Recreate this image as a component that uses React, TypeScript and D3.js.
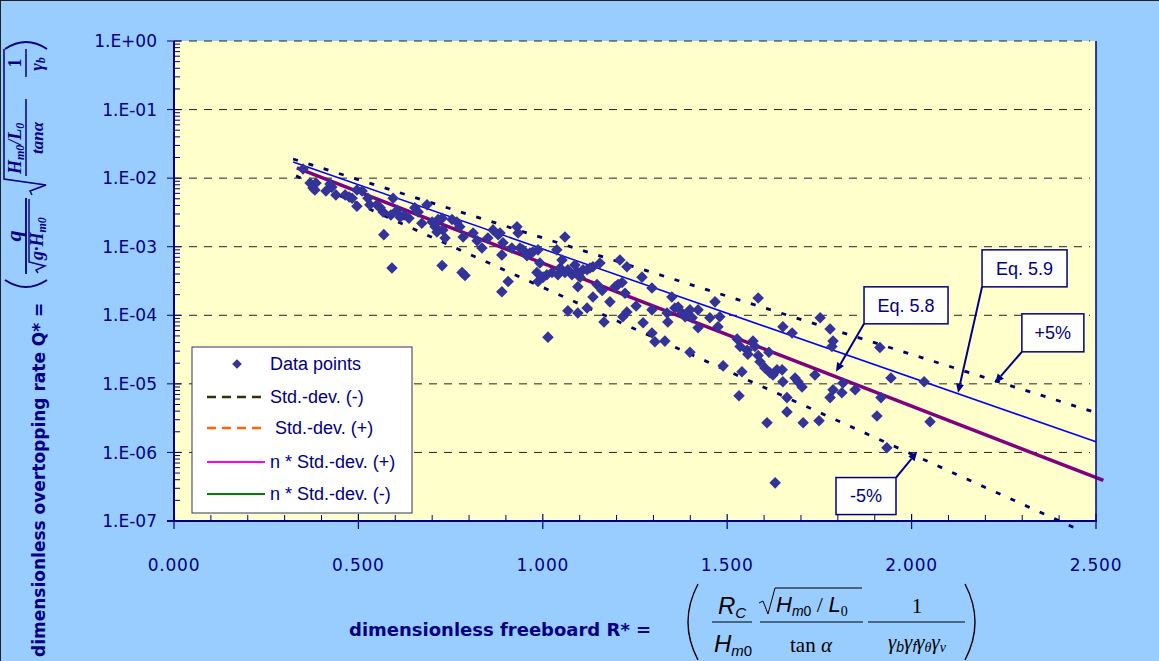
import * as d3 from "d3";

// dimensionless freeboard R* and overtopping rate Q*
const rStar = [
  0.350, 0.369, 0.377, 0.385, 0.382, 0.412, 0.423, 0.428, 0.439, 0.464,
  0.475, 0.483, 0.496, 0.510, 0.496, 0.526, 0.531, 0.550, 0.559, 0.567,
  0.569, 0.588, 0.594, 0.591, 0.605, 0.613, 0.624, 0.637, 0.653, 0.662,
  0.672, 0.686, 0.700, 0.708, 0.716, 0.727, 0.729, 0.713, 0.735, 0.727,
  0.754, 0.767, 0.775, 0.784, 0.781, 0.789, 0.811, 0.822, 0.835, 0.851,
  0.865, 0.879, 0.884, 0.889, 0.892, 0.889, 0.906, 0.916, 0.930, 0.933,
  0.938, 0.946, 0.957, 0.965, 0.973, 0.987, 0.984, 0.992, 0.987, 1.001,
  1.011, 1.025, 1.014, 1.038, 1.060, 1.052, 1.041, 1.047, 1.060, 1.068,
  1.079, 1.087, 1.093, 1.101, 1.109, 1.120, 1.128, 1.136, 1.095, 1.068,
  1.095, 1.120, 1.155, 1.147, 1.161, 1.182, 1.196, 1.204, 1.215, 1.223,
  1.209, 1.228, 1.136, 1.166, 1.217, 1.228, 1.253, 1.269, 1.296, 1.272,
  1.296, 1.304, 1.331, 1.296, 1.337, 1.339, 1.350, 1.358, 1.367, 1.377,
  1.386, 1.391, 1.399, 1.405, 1.421, 1.421, 1.399, 1.453, 1.467, 1.475,
  1.480, 1.489, 1.527, 1.535, 1.554, 1.556, 1.570, 1.575, 1.584, 1.589,
  1.532, 1.540, 1.584, 1.602, 1.613, 1.616, 1.624, 1.635, 1.649, 1.651,
  1.662, 1.662, 1.608, 1.630, 1.684, 1.692, 1.703, 1.706, 1.738, 1.749,
  1.752, 1.779, 1.787, 1.784, 1.651, 1.676, 1.779, 1.787, 1.811, 1.814,
  1.847, 1.914, 1.944, 1.917, 1.906, 1.933, 2.034, 2.050
];
const qStar = [
  1.36e-2, 8.5e-3, 7.2e-3, 8.5e-3, 6.7e-3, 6.5e-3, 8.2e-3, 7.4e-3, 5.7e-3, 5.7e-3,
  5.3e-3, 5.1e-3, 6.7e-3, 6.5e-3, 3.9e-3, 5.1e-3, 4.1e-3, 4.1e-3, 3.7e-3, 3.2e-3,
  1.5e-3, 2.9e-3, 5.1e-3, 4.9e-4, 3.4e-3, 2.7e-3, 2.9e-3, 2.6e-3, 3.7e-3, 3.2e-3,
  2.2e-3, 4.1e-3, 2.3e-3, 1.95e-3, 2.5e-3, 2.6e-3, 1.76e-3, 1.64e-3, 1.34e-3, 5.3e-4,
  2.5e-3, 2.3e-3, 1.95e-3, 1.39e-3, 4.2e-4, 3.8e-4, 1.59e-3, 1.22e-3, 9.6e-4, 1.34e-3,
  1.76e-3, 1.49e-3, 1.59e-3, 7.6e-4, 1.14e-3, 2.2e-4, 3.1e-4, 9.6e-4, 1.95e-3, 1.59e-3,
  9.6e-4, 9.0e-4, 7.4e-4, 8.1e-4, 8.4e-4, 9.0e-4, 4.2e-4, 5.8e-4, 3.1e-4, 3.6e-4,
  3.9e-4, 4.2e-4, 4.8e-5, 9.0e-4, 1.39e-3, 6.4e-4, 3.9e-4, 4.9e-4, 4.2e-4, 4.6e-4,
  3.9e-4, 5.4e-4, 4.3e-4, 3.6e-4, 4.6e-4, 4.6e-4, 4.9e-4, 5.1e-4, 2.6e-4, 1.16e-4,
  1.08e-4, 1.28e-4, 5.8e-4, 2.8e-4, 2.3e-4, 1.57e-4, 2.6e-4, 2.8e-4, 3.0e-4, 2.1e-4,
  6.4e-4, 5.1e-4, 1.85e-4, 8.0e-5, 9.5e-5, 1.12e-4, 1.37e-4, 3.6e-4, 2.5e-4, 7.8e-5,
  5.5e-5, 4.1e-5, 4.2e-5, 1.2e-4, 1.08e-4, 8.0e-5, 1.85e-4, 1.28e-4, 1.32e-4, 1.08e-4,
  9.5e-5, 1.08e-4, 1.2e-4, 9.2e-5, 1.2e-4, 6.6e-5, 2.9e-5, 9.2e-5, 1.57e-4, 6.8e-5,
  9.5e-5, 1.83e-5, 4.5e-5, 3.5e-5, 3.1e-5, 2.7e-5, 4.2e-5, 3.5e-5, 2.6e-5, 2.1e-5,
  6.7e-6, 1.5e-5, 1.79e-4, 1.71e-5, 2.9e-5, 1.45e-5, 1.35e-5, 1.6e-5, 1.6e-5, 1.07e-5,
  6.3e-6, 3.9e-6, 2.7e-6, 3.6e-7, 1.22e-5, 1.07e-5, 9.0e-6, 2.7e-6, 1.35e-5, 2.9e-6,
  9.2e-5, 6.3e-5, 4.2e-5, 3.5e-5, 6.8e-5, 5.5e-5, 6.3e-6, 8.2e-6, 7.4e-6, 1.03e-5,
  8.2e-6, 3.4e-5, 1.22e-5, 6.3e-6, 3.4e-6, 1.17e-6, 1.07e-5, 2.8e-6
];

// fitted lines (end points)
const eq58R = [0.333, 2.52];
const eq58Q = [1.41e-2, 3.9e-7];
const eq59R = [0.323, 2.5];
const eq59Q = [1.72e-2, 1.43e-6];
const plus5R = [0.323, 2.5];
const plus5Q = [1.9e-2, 3.8e-6];
const minus5R = [0.331, 2.46];
const minus5Q = [1.08e-2, 7.2e-8];

const xTickValues = [0, 0.5, 1, 1.5, 2, 2.5];
const xTickLabels = ["0.000", "0.500", "1.000", "1.500", "2.000", "2.500"];
const yTickValues = [1e-7, 1e-6, 1e-5, 1e-4, 1e-3, 1e-2, 1e-1, 1];
const yTickLabels = ["1.E-07", "1.E-06", "1.E-05", "1.E-04", "1.E-03", "1.E-02", "1.E-01", "1.E+00"];

const legendLabels = ["Data points", "Std.-dev. (-)", " Std.-dev. (+)", "n * Std.-dev. (+)", "n * Std.-dev. (-)"];
const legendColors = ["#333399", "#333300", "#FF6600", "#FF00FF", "#008000"];

// callouts: label, arrow tip (R, Q), box corner (R, Q), box size, which corner the arrow leaves from
const callouts = [
  { label: "Eq. 5.8", tipR: 1.795, tipQ: 1.5e-5, boxR: 1.871, boxQ: 2.6e-4, w: 84, h: 37, from: "bl" },
  { label: "Eq. 5.9", tipR: 2.126, tipQ: 7.4e-6, boxR: 2.191, boxQ: 9.0e-4, w: 85, h: 37, from: "bl" },
  { label: "+5%", tipR: 2.226, tipQ: 1.03e-5, boxR: 2.299, boxQ: 1.05e-4, w: 62, h: 38, from: "bl" },
  { label: "-5%", tipR: 2.015, tipQ: 1.02e-6, boxR: 1.795, boxQ: 4.3e-7, w: 60, h: 37, from: "tr" },
];

const W = 1159;
const H = 661;
const plot = { left: 174, right: 1096, top: 41, bottom: 521 };
const navy = "#000080";

export default function App() {
  const x = d3.scaleLinear().domain([0, 2.5]).range([plot.left, plot.right]);
  const y = d3.scaleLog().domain([1e-7, 1]).range([plot.bottom, plot.top]);
  const line = d3.line<[number, number]>().x(d => x(d[0])).y(d => y(d[1]));
  const diamond = d3.symbol().type(d3.symbolDiamond2).size(85)();

  const minorY = y.ticks().filter(v => !yTickValues.some(t => Math.abs(Math.log10(t) - Math.log10(v)) < 1e-6));
  const minorX = d3.range(0, 26).map(i => i / 10).filter(v => Math.abs(v * 2 - Math.round(v * 2)) > 1e-6);

  const pts = rStar.map((r, i) => [r, qStar[i]] as [number, number]);
  const pair = (rs: number[], qs: number[]) => rs.map((r, i) => [r, qs[i]] as [number, number]);

  const arrow = (x1: number, y1: number, x2: number, y2: number, key: string) => {
    const a = Math.atan2(y2 - y1, x2 - x1);
    const len = 9, wid = 4;
    const bx = x2 - len * Math.cos(a), by = y2 - len * Math.sin(a);
    const p = `M${x2},${y2} L${bx + wid * Math.sin(a)},${by - wid * Math.cos(a)} L${bx - wid * Math.sin(a)},${by + wid * Math.cos(a)} Z`;
    return (
      <g key={key}>
        <line x1={x1} y1={y1} x2={bx} y2={by} stroke={navy} strokeWidth={2} />
        <path d={p} fill={navy} />
      </g>
    );
  };

  return (
    <div style={{ position: "absolute", left: 0, top: 0 }}>
      <svg width={W} height={H} style={{ display: "block" }}>
        <rect x={0.5} y={0.5} width={W + 5} height={H + 5} fill="#99CCFF" stroke="#222" strokeWidth={1} />
        <rect x={plot.left} y={plot.top} width={plot.right - plot.left} height={plot.bottom - plot.top} fill="#FFFFCC" />

        {/* gridlines */}
        {yTickValues.slice(1).map(v => (
          <line key={"g" + v} x1={plot.left} x2={plot.right - 6} y1={y(v)} y2={y(v)}
            stroke="#222" strokeWidth={1} strokeDasharray="8 7" />
        ))}

        {/* lines */}
        <path d={line(pair(plus5R, plus5Q)) || ""} fill="none" stroke="#000066" strokeWidth={2.8} strokeDasharray="5 11" />
        <path d={line(pair(minus5R, minus5Q)) || ""} fill="none" stroke="#000066" strokeWidth={2.8} strokeDasharray="5 11" />
        <path d={line(pair(eq59R, eq59Q)) || ""} fill="none" stroke="#0000FF" strokeWidth={1.5} />
        <path d={line(pair(eq58R, eq58Q)) || ""} fill="none" stroke="#800080" strokeWidth={3.5} />

        {/* data */}
        {pts.map((d, i) => (
          <path key={"p" + i} d={diamond || ""} transform={`translate(${x(d[0])},${y(d[1])})`} fill="#333399" />
        ))}

        {/* axes */}
        <line x1={plot.left} x2={plot.left} y1={plot.top} y2={plot.bottom + 1} stroke={navy} strokeWidth={2} />
        <line x1={plot.right} x2={plot.right} y1={plot.top} y2={plot.bottom} stroke={navy} strokeWidth={1.5} />
        <line x1={plot.left - 7} x2={plot.right + 1} y1={plot.bottom} y2={plot.bottom} stroke={navy} strokeWidth={2} />
        {minorY.map(v => (
          <line key={"my" + v} x1={plot.left} x2={plot.left + 6} y1={y(v)} y2={y(v)} stroke={navy} strokeWidth={1} />
        ))}
        {yTickValues.map(v => (
          <line key={"ty" + v} x1={plot.left - 7} x2={plot.left + 7} y1={y(v)} y2={y(v)} stroke={navy} strokeWidth={1} />
        ))}
        {minorX.map(v => (
          <line key={"mx" + v} x1={x(v)} x2={x(v)} y1={plot.bottom} y2={plot.bottom - 6} stroke={navy} strokeWidth={1} />
        ))}
        {xTickValues.map(v => (
          <line key={"tx" + v} x1={x(v)} x2={x(v)} y1={plot.bottom - 7} y2={plot.bottom + 8} stroke={navy} strokeWidth={1.2} />
        ))}

        {yTickLabels.map((t, i) => (
          <text key={t} x={157} y={y(yTickValues[i])} dy="0.36em" textAnchor="end"
            fontFamily="DejaVu Sans, Verdana, sans-serif" fontSize={17} fill={navy}>{t}</text>
        ))}
        {xTickLabels.map((t, i) => (
          <text key={t} x={x(xTickValues[i])} y={571} textAnchor="middle"
            fontFamily="DejaVu Sans, Verdana, sans-serif" fontSize={17} letterSpacing={0.8} fill={navy}>{t}</text>
        ))}

        {/* legend */}
        <g fontFamily="Liberation Sans, Arial, sans-serif" fontSize={18} fill={navy}>
          <rect x={192} y={347} width={220} height={166} fill="#FFFFFF" stroke="#333366" strokeWidth={1} />
          {legendLabels.map((t, i) => {
            const ly = [364, 397, 428, 462, 494][i];
            return (
              <g key={t}>
                {i === 0 ? (
                  <path d={d3.symbol().type(d3.symbolDiamond2).size(60)() || ""} transform={`translate(237,${ly})`} fill={legendColors[0]} />
                ) : (
                  <line x1={207} x2={265} y1={ly} y2={ly} stroke={legendColors[i]} strokeWidth={i < 3 ? 2.5 : 1.8}
                    strokeDasharray={i < 3 ? "9 6" : undefined} />
                )}
                <text x={270} y={ly} dy="0.35em" style={{ whiteSpace: "pre" }}>{t}</text>
              </g>
            );
          })}
        </g>

        {/* callouts */}
        {callouts.map(c => {
          const bx = x(c.boxR), by = y(c.boxQ);
          const sx = c.from === "bl" ? bx : bx + c.w;
          const sy = c.from === "bl" ? by + c.h : by;
          return (
            <g key={c.label}>
              {arrow(sx, sy, x(c.tipR), y(c.tipQ), c.label)}
              <rect x={bx} y={by} width={c.w} height={c.h} fill="#FFFFFF" stroke={navy} strokeWidth={1.5} />
              <text x={bx + c.w / 2} y={by + c.h / 2} dy="0.35em" textAnchor="middle"
                fontFamily="Liberation Sans, Arial, sans-serif" fontSize={18} fill={navy}>{c.label}</text>
            </g>
          );
        })}

        {/* y axis title with formula */}
        <g transform={`translate(0,${H}) rotate(-90)`} fill={navy}>
          <text x={4} y={45} fontFamily="DejaVu Sans, Verdana, sans-serif" fontWeight="bold" fontSize={17}>
            dimensionless overtopping rate Q* =
          </text>
          <g fontFamily="Liberation Serif, serif" fontStyle="italic" fontWeight="bold" stroke="none">
            <path d="M381,5 Q367,26 381,47" fill="none" stroke={navy} strokeWidth={2} />
            <text x={425} y={21} textAnchor="middle" fontSize={22}>q</text>
            <line x1={387} x2={463} y1={26} y2={26} stroke={navy} strokeWidth={1.8} />
            <path d="M388,38 L391,36 L395,45 L399,29 L462,29" fill="none" stroke={navy} strokeWidth={1.4} />
            <text x={401} y={43} fontSize={18}>g·H<tspan fontSize={12} dy={3}>m0</tspan></text>
            <path d="M466,32 L470,30 L476,46 L482,4 L612,4" fill="none" stroke={navy} strokeWidth={1.5} />
            <text x={487} y={21} fontSize={18}>H<tspan fontSize={12} dy={3}>m0</tspan><tspan dy={-3}>/L</tspan><tspan fontSize={12} dy={3}>0</tspan></text>
            <line x1={485} x2={562} y1={26} y2={26} stroke={navy} strokeWidth={1.5} />
            <text x={523} y={43} textAnchor="middle" fontSize={17}>tanα</text>
            <text x={598} y={21} textAnchor="middle" fontSize={18} fontStyle="normal">1</text>
            <line x1={584} x2={612} y1={26} y2={26} stroke={navy} strokeWidth={1.5} />
            <text x={597} y={43} textAnchor="middle" fontSize={18}>γ<tspan fontSize={12} dy={2}>b</tspan></text>
            <path d="M612,5 Q626,26 612,47" fill="none" stroke={navy} strokeWidth={2} />
          </g>
        </g>

        {/* x axis title with formula */}
        <text x={349} y={636} fontFamily="DejaVu Sans, Verdana, sans-serif" fontWeight="bold" fontSize={18} fill={navy}>
          dimensionless freeboard R* =
        </text>
        <g fill="#000" fontSize={22}>
          <path d="M698,584 Q678,622 698,660" fill="none" stroke="#000" strokeWidth={1.4} />
          <path d="M965,584 Q985,622 965,660" fill="none" stroke="#000" strokeWidth={1.4} />
          <text x={732} y={614} textAnchor="middle" fontFamily="Liberation Sans, Arial, sans-serif" fontStyle="italic" fontSize={24}>
            R<tspan fontSize={15} dy={4}>C</tspan>
          </text>
          <line x1={712} x2={752} y1={622} y2={622} stroke="#000" strokeWidth={1} />
          <text x={733} y={652} textAnchor="middle" fontFamily="Liberation Sans, Arial, sans-serif" fontStyle="italic" fontSize={24}>
            H<tspan fontSize={15} dy={4}>m</tspan><tspan fontSize={15} fontStyle="normal">0</tspan>
          </text>
          <path d="M759,603 L763,601 L768,614 L775,588 L862,588" fill="none" stroke="#000" strokeWidth={1} />
          <text x={776} y={612} fontFamily="Liberation Sans, Arial, sans-serif" fontStyle="italic" fontSize={22}>
            H<tspan fontSize={14} dy={4}>m</tspan><tspan fontSize={14} fontStyle="normal">0</tspan>
            <tspan dy={-4} fontFamily="Liberation Serif, serif" fontStyle="normal"> / </tspan>L<tspan fontSize={14} dy={4} fontStyle="normal" fontFamily="Liberation Serif, serif">0</tspan>
          </text>
          <line x1={760} x2={863} y1={622} y2={622} stroke="#000" strokeWidth={1} />
          <text x={811} y={652} textAnchor="middle" fontFamily="Liberation Serif, serif" fontSize={21}>
            tan <tspan fontStyle="italic">α</tspan>
          </text>
          <text x={917} y={613} textAnchor="middle" fontFamily="Liberation Serif, serif" fontSize={21}>1</text>
          <line x1={868} x2={965} y1={622} y2={622} stroke="#000" strokeWidth={1} />
          <text x={917} y={649} textAnchor="middle" fontFamily="Liberation Serif, serif" fontStyle="italic" fontSize={21}>
            γ<tspan fontSize={14} dy={3} fontFamily="Liberation Sans, Arial, sans-serif">b</tspan><tspan dy={-3}>γ</tspan><tspan fontSize={14} dy={3} fontFamily="Liberation Sans, Arial, sans-serif">f</tspan><tspan dy={-3}>γ</tspan><tspan fontSize={14} dy={3}>θ</tspan><tspan dy={-3}>γ</tspan><tspan fontSize={14} dy={3}>v</tspan>
          </text>
        </g>
      </svg>
    </div>
  );
}
